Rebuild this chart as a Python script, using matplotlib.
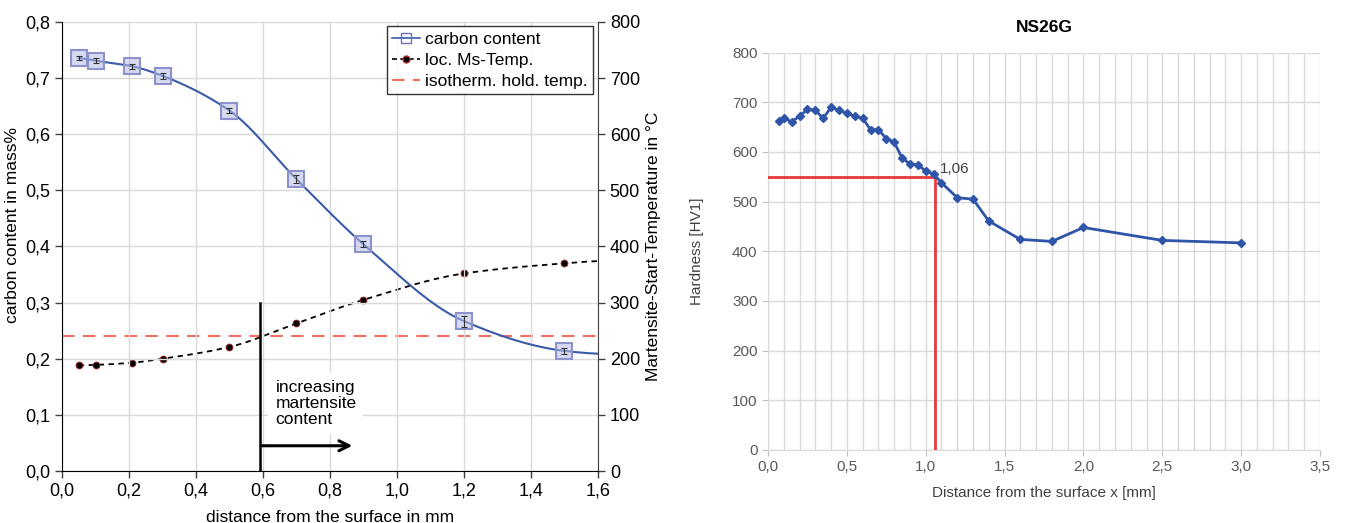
import numpy as np
import matplotlib
matplotlib.use("Agg")
import matplotlib.pyplot as plt
from matplotlib.ticker import MultipleLocator, FuncFormatter
from matplotlib.lines import Line2D

plt.rcParams['font.family'] = ['Liberation Sans', 'DejaVu Sans']

# left chart: carbon profile and local Ms temperature
dist = [0.05, 0.10, 0.21, 0.30, 0.50, 0.70, 0.90, 1.20, 1.50]
carbon = [0.736, 0.731, 0.721, 0.704, 0.642, 0.520, 0.404, 0.267, 0.214]
carbon_err = [0.004, 0.004, 0.004, 0.005, 0.004, 0.007, 0.005, 0.010, 0.006]
ms_temp = [188, 189, 193, 200, 221, 263, 305, 352, 370]
# end values of the smoothed curves at 1.6 mm
carbon_end = 0.209
ms_end = 374
hold_temp = 240
x_mart = 0.59

# right chart: hardness profile NS26G
hx = [0.07, 0.10, 0.15, 0.20, 0.25, 0.30, 0.35, 0.40, 0.45, 0.50, 0.55, 0.60,
      0.65, 0.70, 0.75, 0.80, 0.85, 0.90, 0.95, 1.00, 1.05, 1.10, 1.20, 1.30,
      1.40, 1.60, 1.80, 2.00, 2.50, 3.00]
hv = [662, 668, 661, 672, 686, 684, 668, 690, 684, 678, 672, 668,
      645, 645, 627, 620, 588, 576, 574, 562, 556, 538, 508, 505,
      461, 424, 420, 448, 422, 417]
h_lim = 550
x_lim = 1.06


def smooth(x, y, n=40):
    # monotone cubic Hermite curve through the knots (smoothed line)
    x = np.asarray(x, float)
    y = np.asarray(y, float)
    h = np.diff(x)
    d = np.diff(y) / h
    m = np.zeros_like(y)
    for k in range(1, len(x)-1):
        if d[k-1]*d[k] > 0:
            w1 = 2*h[k] + h[k-1]
            w2 = h[k] + 2*h[k-1]
            m[k] = (w1 + w2) / (w1/d[k-1] + w2/d[k])
    m[0] = d[0]
    m[-1] = d[-1] * 0.5
    xs, ys = [], []
    t = np.linspace(0, 1, n)
    for k in range(len(x)-1):
        h00 = 2*t**3 - 3*t**2 + 1
        h10 = t**3 - 2*t**2 + t
        h01 = -2*t**3 + 3*t**2
        h11 = t**3 - t**2
        xs.append(x[k] + t*h[k])
        ys.append(h00*y[k] + h10*h[k]*m[k] + h01*y[k+1] + h11*h[k]*m[k+1])
    return np.concatenate(xs), np.concatenate(ys)


comma = FuncFormatter(lambda v, p: ('%.1f' % v).replace('.', ','))
comma0 = FuncFormatter(lambda v, p: '%d' % v)

fig = plt.figure(figsize=(13.45, 5.23), dpi=100)

# ---------- left ----------
ax = fig.add_axes([0.0461, 0.0994, 0.3985, 0.8586])
ax2 = ax.twinx()
ax.set_zorder(ax2.get_zorder()+1)
ax.patch.set_visible(False)

blue = '#3a5ba8'
cx, cy = smooth(dist + [1.6], carbon + [carbon_end])
ax.plot(cx, cy, color=blue, lw=1.5, zorder=3)
ax.errorbar(dist, carbon, yerr=carbon_err, fmt='none', ecolor='#333333', elinewidth=0.8,
            capsize=2, capthick=0.8, zorder=5)
ax.plot(dist, carbon, ls='none', marker='s', ms=11, mfc=(0.72, 0.74, 0.90, 0.55),
        mec='#8c93cc', mew=1.5, zorder=4)

mx, my = smooth(dist + [1.6], ms_temp + [ms_end])
ax2.plot(mx, my, color='black', lw=1.3, ls=(0, (3, 2.5)))
ax2.plot(dist, ms_temp, ls='none', marker='o', ms=5, mfc='black', mec='#b03030', mew=0.6)
ax2.axhline(hold_temp, color='#f07060', lw=1.5, ls=(0, (6, 4)))

ax.plot([x_mart, x_mart], [0, 0.3], color='black', lw=1.8, zorder=6)
ax.annotate('', xy=(0.875, 0.045), xytext=(x_mart, 0.045),
            arrowprops=dict(arrowstyle='->', lw=2.2, color='black', mutation_scale=18), zorder=6)
ax.text(0.637, 0.163, 'increasing\nmartensite\ncontent', fontsize=12.5, va='top', ha='left',
        linespacing=1.1, bbox=dict(fc='white', ec='none', pad=5), zorder=2)

ax.set_xlim(0, 1.6)
ax.set_ylim(0, 0.8)
ax2.set_ylim(0, 800)
ax.xaxis.set_major_locator(MultipleLocator(0.2))
ax.yaxis.set_major_locator(MultipleLocator(0.1))
ax2.yaxis.set_major_locator(MultipleLocator(100))
ax.xaxis.set_major_formatter(comma)
ax.yaxis.set_major_formatter(comma)
ax2.yaxis.set_major_formatter(comma0)
ax.grid(True, color='#d9d9d9', lw=1)
ax.set_axisbelow(True)
for a in (ax, ax2):
    a.tick_params(labelsize=13, length=5, width=1, color='#404040')
    a.spines['top'].set_visible(False)
ax2.spines['left'].set_visible(False)
ax2.spines['bottom'].set_visible(False)
ax2.spines['right'].set_color('#404040')
ax.spines['right'].set_visible(False)
ax.set_xlabel('distance from the surface in mm', fontsize=12.5, labelpad=7)
ax.set_ylabel('carbon content in mass%', fontsize=12.5)
ax.yaxis.set_label_coords(-0.078, 0.547)
ax2.set_ylabel('Martensite-Start-Temperature in °C', fontsize=12.5, labelpad=4)

handles = [
    Line2D([], [], color=blue, lw=1.2, marker='s', ms=7, mfc='none', mec='#6670c0'),
    Line2D([], [], color='black', lw=1.2, ls=(0, (3, 2)), marker='o', ms=5, mfc='black', mec='#b03030'),
    Line2D([], [], color='#f07060', lw=1.5, ls=(0, (6, 4))),
]
leg = ax.legend(handles, ['carbon content', 'loc. Ms-Temp.', 'isotherm. hold. temp.'],
                loc='upper right', bbox_to_anchor=(0.99, 0.99), fontsize=12.5, frameon=True,
                fancybox=False, edgecolor='black', handlelength=1.6, handletextpad=0.3,
                borderpad=0.3, labelspacing=0.35, borderaxespad=0)
leg.get_frame().set_linewidth(1)

# ---------- right ----------
bx = fig.add_axes([0.571, 0.1396, 0.4104, 0.7597])
hblue = '#2f55a8'
bx.plot(hx, hv, color=hblue, lw=2, marker='D', ms=4.5, zorder=4)
bx.plot([0, x_lim], [h_lim, h_lim], color='#e8383a', lw=2, zorder=3)
bx.plot([x_lim, x_lim], [0, h_lim], color='#e8383a', lw=2, zorder=3)
bx.text(x_lim + 0.03, 565, ('%.2f' % x_lim).replace('.', ','), fontsize=11, color='#404040',
        va='center', ha='left')
bx.set_xlim(0, 3.5)
bx.set_ylim(0, 800)
bx.xaxis.set_major_locator(MultipleLocator(0.5))
bx.xaxis.set_minor_locator(MultipleLocator(0.1))
bx.yaxis.set_major_locator(MultipleLocator(100))
bx.xaxis.set_major_formatter(comma)
bx.yaxis.set_major_formatter(comma0)
bx.grid(True, which='both', axis='x', color='#d9d9d9', lw=1)
bx.grid(True, which='major', axis='y', color='#d9d9d9', lw=1)
bx.set_axisbelow(True)
for s in ('top', 'right'):
    bx.spines[s].set_visible(False)
for s in ('left', 'bottom'):
    bx.spines[s].set_color('#d9d9d9')
bx.tick_params(which='major', labelsize=11, labelcolor='#595959', color='#bfbfbf', length=4)
bx.tick_params(which='minor', length=0)
bx.set_title('NS26G', fontsize=12.5, fontweight='bold', pad=15)
bx.set_xlabel('Distance from the surface x [mm]', fontsize=11, color='#404040', labelpad=8)
bx.set_ylabel('Hardness [HV1]', fontsize=11, color='#404040', labelpad=20)

fig.savefig('out.png', dpi=100)
